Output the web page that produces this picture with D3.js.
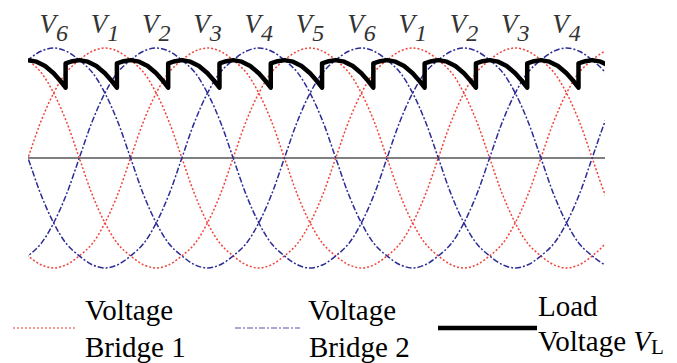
<!DOCTYPE html>
<html>
<head>
<meta charset="utf-8">
<script src="https://cdn.jsdelivr.net/npm/d3@7"></script>
</head>
<body style="margin:0">
<svg id="chart" width="677" height="363"></svg>
<script>
// electrical angle (deg) covered by the x axis
const angleDomain = [0, 675];

// one period of a phase voltage, pu, every 15 deg from the rising zero
const waveStep = 15;
const waveShape = [0, 0.33, 0.59, 0.78, 0.89, 0.97, 1, 0.97, 0.89, 0.78, 0.59, 0.33,
  0, -0.33, -0.59, -0.78, -0.89, -0.97, -1, -0.97, -0.89, -0.78, -0.59, -0.33, 0];

// rising zero crossing of each phase (deg)
const bridge1Phases = [0, 120, 240];
const bridge2Phases = [60, 180, 300];

// labels over each peak
const peakAngles = [30, 90, 150, 210, 270, 330, 390, 450, 510, 570, 630];
const peakLabels = ["6", "1", "2", "3", "4", "5", "6", "1", "2", "3", "4"];

// load voltage over one 60 deg interval (deg into interval, pu)
const loadInterval = 60;
const loadDescent = [[0, 0.89], [10, 0.876], [20, 0.836], [30, 0.77], [38, 0.70], [44, 0.64]];
const loadRecover = [[44, 0.86], [52, 0.88], [60, 0.89]];

// legend text lines
const legendLines = [
  {x: 85, y: 320, text: "Voltage"}, {x: 85, y: 357, text: "Bridge 1"},
  {x: 308, y: 320, text: "Voltage"}, {x: 309, y: 357, text: "Bridge 2"},
  {x: 538, y: 316, text: "Load"}
];

const red = "#f0443a", blue = "#2c2c96";

const svg = d3.select("#chart");
const x = d3.scaleLinear().domain(angleDomain).range([28, 605]);
const y = d3.scaleLinear().domain([-1, 1]).range([268, 48]);

// texts first
svg.selectAll("text")
  .data(legendLines)
  .join("text")
  .attr("x", d => d.x)
  .attr("y", d => d.y)
  .attr("font-size", 29)
  .attr("font-family", "Liberation Serif")
  .style("font-family", d => `"Liberation Serif"`)
  .text(d => d.text);

const vl = svg.append("text")
  .attr("x", 538).attr("y", 351)
  .attr("font-size", 29)
  .attr("font-family", "Liberation Serif")
  .style("font-family", `"Liberation Serif"`);
vl.append("tspan").text("Voltage ");
vl.append("tspan").style("font-style", "italic").text("V");
vl.append("tspan").attr("font-size", 21).attr("dy", 3).text("L");

const labels = svg.selectAll("text.peak")
  .data(peakAngles)
  .join("text")
  .attr("class", "peak")
  .attr("font-family", "Liberation Serif")
  .style("font-family", `"Liberation Serif"`)
  .style("font-style", "italic")
  .attr("x", d => x(d))
  .attr("y", 33)
  .attr("text-anchor", "middle")
  .attr("fill", "#333");
labels.append("tspan").attr("font-size", 27).text("V");
labels.append("tspan").attr("font-size", 24).attr("dy", 8).text((d, i) => peakLabels[i]);

svg.append("defs").append("clipPath").attr("id", "plot")
  .append("rect")
  .attr("x", x(angleDomain[0])).attr("y", 0)
  .attr("width", x(angleDomain[1]) - x(angleDomain[0])).attr("height", 300);

function wavePoints(phase) {
  const pts = [];
  for (let n = -2; n <= 2; n++) {
    waveShape.forEach((v, i) => {
      if (i === waveShape.length - 1) return;
      pts.push([phase + n * 360 + i * waveStep, v]);
    });
  }
  return pts.filter(p => p[0] >= angleDomain[0] - 45 && p[0] <= angleDomain[1] + 45);
}

const waveLine = d3.line()
  .x(d => x(d[0])).y(d => y(d[1]))
  .curve(d3.curveCatmullRom);

// zero line
svg.append("path")
  .datum(angleDomain.map(a => [a, 0]))
  .attr("d", d3.line().x(d => x(d[0])).y(d => y(d[1])))
  .attr("stroke", "#555")
  .attr("stroke-width", 1.4);

const waves = svg.append("g").attr("clip-path", "url(#plot)");

waves.selectAll(".b1")
  .data(bridge1Phases)
  .join("path")
  .attr("class", "b1")
  .attr("d", p => waveLine(wavePoints(p)))
  .attr("fill", "none")
  .attr("stroke", red)
  .attr("stroke-width", 1.5)
  .attr("stroke-dasharray", "2,2");

waves.selectAll(".b2")
  .data(bridge2Phases)
  .join("path")
  .attr("class", "b2")
  .attr("d", p => waveLine(wavePoints(p)))
  .attr("fill", "none")
  .attr("stroke", blue)
  .attr("stroke-width", 1.5)
  .attr("stroke-dasharray", "6,2,2,2");

// load voltage
const loadPoints = [];
for (let k = 0; k * loadInterval <= angleDomain[1]; k++) {
  const s = k * loadInterval;
  loadDescent.concat(loadRecover).forEach(([a, v]) => loadPoints.push([s + a, v]));
}

svg.append("path")
  .datum(loadPoints.filter(p => p[0] <= angleDomain[1] + 10))
  .attr("clip-path", "url(#plot)")
  .attr("d", d3.line().x(d => x(d[0])).y(d => y(d[1])))
  .attr("fill", "none")
  .attr("stroke", "#000")
  .attr("stroke-width", 4.5)
  .attr("stroke-linejoin", "round");

// legend swatches
svg.append("line")
  .attr("x1", 13).attr("x2", 76).attr("y1", 328).attr("y2", 328)
  .attr("stroke", red).attr("stroke-opacity", 0.7).attr("stroke-width", 1.4)
  .attr("stroke-dasharray", "2,2");
svg.append("line")
  .attr("x1", 235).attr("x2", 300).attr("y1", 328).attr("y2", 328)
  .attr("stroke", blue).attr("stroke-opacity", 0.55).attr("stroke-width", 1.4)
  .attr("stroke-dasharray", "6,2,2,2");
svg.append("line")
  .attr("x1", 438).attr("x2", 537).attr("y1", 328).attr("y2", 328)
  .attr("stroke", "#000").attr("stroke-width", 4.5);
</script>
</body>
</html>
